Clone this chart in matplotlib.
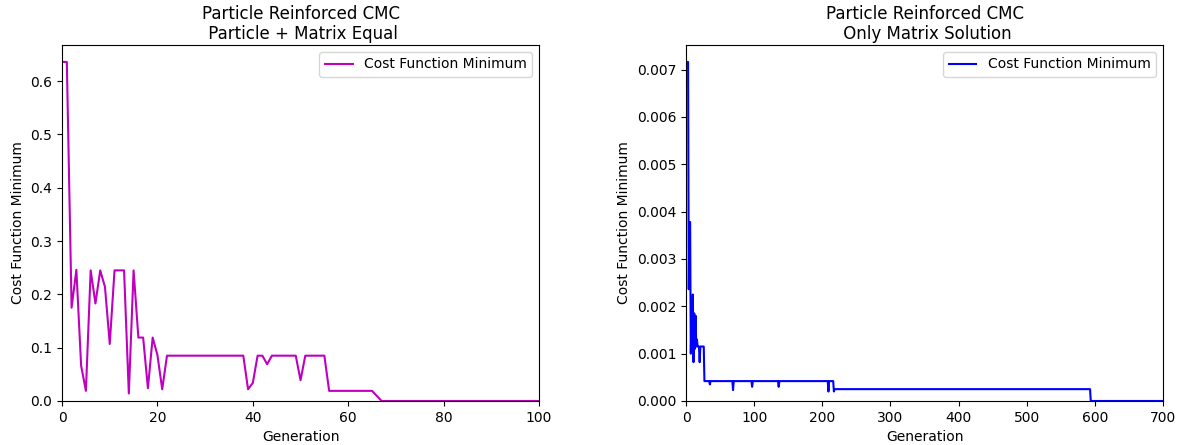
import numpy as np
import matplotlib
matplotlib.use("Agg")
import matplotlib.pyplot as plt

# Best cost per generation, particle + matrix optimised together
equal_cost = [
    0.636, 0.636, 0.175, 0.246, 0.066, 0.019, 0.245, 0.183, 0.245, 0.214,
    0.107, 0.245, 0.245, 0.245, 0.014, 0.245, 0.119, 0.119, 0.024, 0.119,
    0.086, 0.022, 0.085, 0.085, 0.085, 0.085, 0.085, 0.085, 0.085, 0.085,
    0.085, 0.085, 0.085, 0.085, 0.085, 0.085, 0.085, 0.085, 0.085, 0.022,
    0.034, 0.085, 0.085, 0.069, 0.085, 0.085, 0.085, 0.085, 0.085, 0.085,
    0.039, 0.085, 0.085, 0.085, 0.085, 0.085, 0.019, 0.019, 0.019, 0.019,
    0.019, 0.019, 0.019, 0.019, 0.019, 0.019, 0.0095,
] + [0.0] * 34

# Best cost per generation, matrix only, stored as (value, run length)
matrix_values = [
    0.00716, 0.00236, 0.00378, 0.00100, 0.00185, 0.00105, 0.00225, 0.00082,
    0.00185, 0.00110, 0.00180, 0.00115, 0.00130, 0.00115, 0.00082, 0.00115,
    0.00042, 0.00035, 0.00042, 0.00023, 0.00042, 0.00030, 0.00042, 0.00030,
    0.00042, 0.00020, 0.00042, 0.00020, 0.00025, 0.0,
]
matrix_runs = [
    4, 1, 2, 1, 1, 1, 1, 1,
    1, 1, 1, 1, 1, 3, 1, 6,
    8, 1, 33, 1, 27, 1, 38, 1,
    72, 1, 7, 1, 376, 106,
]
matrix_cost = np.repeat(matrix_values, matrix_runs)

fig = plt.figure(figsize=(11.82, 4.45), dpi=100)
ax1 = fig.add_axes([0.0525, 0.0989, 0.4035, 0.8])
ax2 = fig.add_axes([0.5804, 0.0989, 0.4035, 0.8])

ax1.plot(np.arange(len(equal_cost)), equal_cost, color="m", lw=1.5,
         label="Cost Function Minimum")
ax1.set_xlim(0, 100)
ax1.set_ylim(bottom=0)
ax1.set_title("Particle Reinforced CMC\n Particle + Matrix Equal", pad=4)
ax1.set_xlabel("Generation")
ax1.set_ylabel("Cost Function Minimum")
ax1.legend(loc="upper right")

ax2.plot(np.arange(len(matrix_cost)), matrix_cost, color="b", lw=1.5,
         label="Cost Function Minimum")
ax2.set_xlim(0, 700)
ax2.set_ylim(bottom=0)
ax2.set_title("Particle Reinforced CMC\n Only Matrix Solution", pad=4)
ax2.set_xlabel("Generation")
ax2.set_ylabel("Cost Function Minimum")
ax2.legend(loc="upper right")

fig.savefig("out.png", dpi=100)
